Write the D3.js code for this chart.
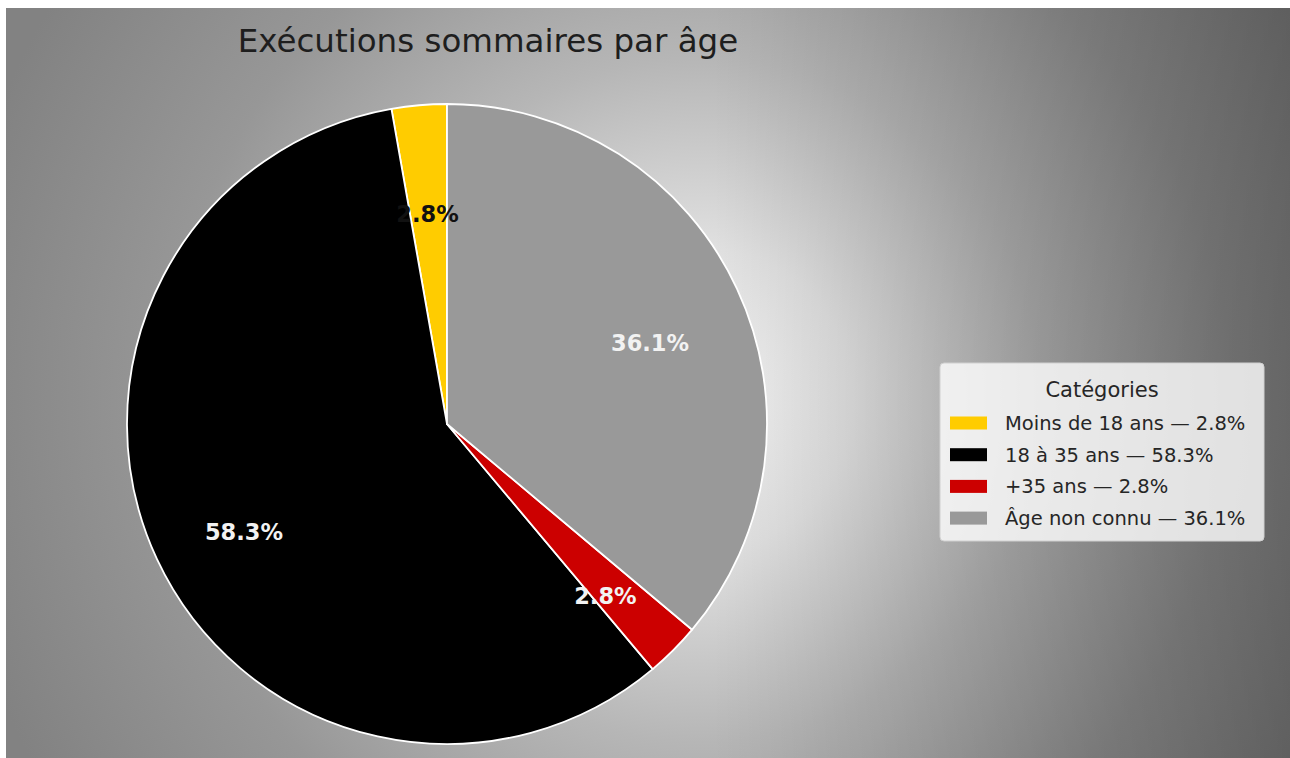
<!DOCTYPE html>
<html>
<head>
<meta charset="utf-8">
<script src="https://cdn.jsdelivr.net/npm/d3@7"></script>
<style>
  html, body { margin: 0; padding: 0; background: #fff; }
  svg { display: block; font-family: "DejaVu Sans", sans-serif; }
</style>
</head>
<body>
<div id="chart-area"></div>
<script>
// values (36 cases in total)
var categories = ["Moins de 18 ans", "18 à 35 ans", "+35 ans", "Âge non connu"];
var counts = [1, 21, 1, 13];
var sliceColors = ["#ffcc00", "#000000", "#cc0000", "#999999"];
var labelColors = ["#111111", "#f2f2f2", "#f2f2f2", "#f2f2f2"];
var chartTitle = "Exécutions sommaires par âge";
var legendTitle = "Catégories";

var width = 1290, height = 758;
var frame = { left: 6, top: 8 };
var center = { x: 447, y: 424 },
    radius = 320;

var svg = d3.select("#chart-area")
    .append("svg")
    .attr("width", width)
    .attr("height", height);

var defs = svg.append("defs");

var bgRadial = defs.append("radialGradient")
    .attr("id", "bg-radial")
    .attr("gradientUnits", "userSpaceOnUse")
    .attr("cx", 700).attr("cy", 400).attr("r", 760);
[[0, "#f4f4f4"], [0.2, "#e0e0e0"], [0.45, "#b6b6b6"], [0.7, "#979797"], [1, "#828282"]]
    .forEach(s => bgRadial.append("stop").attr("offset", s[0]).attr("stop-color", s[1]));

var bgShade = defs.append("linearGradient")
    .attr("id", "bg-shade")
    .attr("gradientUnits", "userSpaceOnUse")
    .attr("x1", frame.left).attr("y1", 0).attr("x2", width).attr("y2", 0);
[[0, 0], [0.55, 0], [1, 0.3]]
    .forEach(s => bgShade.append("stop").attr("offset", s[0]).attr("stop-color", "#000").attr("stop-opacity", s[1]));

svg.append("rect")
    .attr("x", frame.left).attr("y", frame.top)
    .attr("width", width - frame.left).attr("height", height - frame.top)
    .attr("fill", "url(#bg-radial)");
svg.append("rect")
    .attr("x", frame.left).attr("y", frame.top)
    .attr("width", width - frame.left).attr("height", height - frame.top)
    .attr("fill", "url(#bg-shade)");

svg.append("text")
    .attr("x", 488)
    .attr("y", 52)
    .attr("text-anchor", "middle")
    .attr("font-size", "32.5px")
    .attr("fill", "#1e1e1e")
    .text(chartTitle);

var total = d3.sum(counts);
var pctFormat = d3.format(".1%");
var colorScale = d3.scaleOrdinal().domain(categories).range(sliceColors);
var labelColor = d3.scaleOrdinal().domain(categories).range(labelColors);

var rows = categories.map((c, i) => ({ category: c, count: counts[i] }));

// counter-clockwise from twelve o'clock, like startangle=90 in matplotlib
var pie = d3.pie().value(d => d.count).sort(null).startAngle(0).endAngle(-2 * Math.PI);
var arc = d3.arc().innerRadius(0).outerRadius(radius);
var labelArc = d3.arc().innerRadius(radius * 0.7).outerRadius(radius * 0.7);

var pieGroup = svg.append("g").attr("transform", `translate(${center.x},${center.y})`);

pieGroup.selectAll("path.slice")
    .data(pie(rows))
    .enter()
    .append("path")
    .attr("class", "slice")
    .attr("d", arc)
    .attr("fill", d => colorScale(d.data.category))
    .attr("stroke", "#ffffff")
    .attr("stroke-width", 1.8)
    .attr("stroke-linejoin", "round");

pieGroup.selectAll("text.pct")
    .data(pie(rows))
    .enter()
    .append("text")
    .attr("class", "pct")
    .attr("transform", d => `translate(${labelArc.centroid(d)})`)
    .attr("text-anchor", "middle")
    .attr("dy", "0.95em")
    .attr("font-size", "22.5px")
    .attr("font-weight", "bold")
    .attr("fill", d => labelColor(d.data.category))
    .text(d => pctFormat(d.data.count / total));

// legend
var legend = svg.append("g").attr("transform", "translate(940,363)");

legend.append("rect")
    .attr("width", 324)
    .attr("height", 178)
    .attr("rx", 4)
    .attr("fill", "#ffffff")
    .attr("fill-opacity", 0.8)
    .attr("stroke", "#d0d0d0")
    .attr("stroke-width", 1);

legend.append("text")
    .attr("x", 162)
    .attr("y", 34)
    .attr("text-anchor", "middle")
    .attr("font-size", "21px")
    .attr("fill", "#262626")
    .text(legendTitle);

var items = legend.selectAll("g.item")
    .data(rows)
    .enter()
    .append("g")
    .attr("class", "item")
    .attr("transform", (d, i) => `translate(10, ${60 + i * 31.7})`);

items.append("rect")
    .attr("x", 0)
    .attr("y", -6.5)
    .attr("width", 37)
    .attr("height", 13)
    .attr("fill", d => colorScale(d.category));

items.append("text")
    .attr("x", 55)
    .attr("dy", "0.36em")
    .attr("font-size", "19.5px")
    .attr("fill", "#262626")
    .text(d => `${d.category} — ${pctFormat(d.count / total)}`);
</script>
</body>
</html>
